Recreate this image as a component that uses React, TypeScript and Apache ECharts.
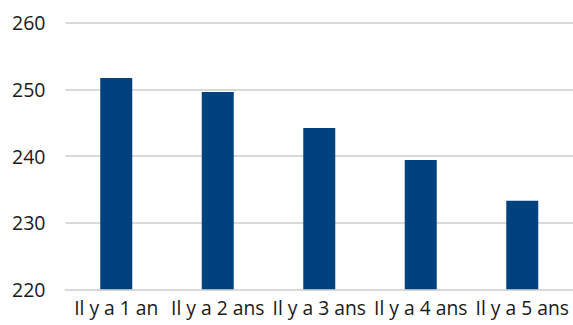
import React, { useEffect, useRef } from "react";
import * as echarts from "echarts";

const categories = ["Il y a 1 an", "Il y a 2 ans", "Il y a 3 ans", "Il y a 4 ans", "Il y a 5 ans"];
const values = [251.7, 249.6, 244.2, 239.4, 233.3];
const yMin = 220;
const yMax = 260;
const yInterval = 10;

export default function App() {
  const ref = useRef<HTMLDivElement>(null);
  useEffect(() => {
    if (!ref.current) return;
    const chart = echarts.init(ref.current, undefined, { renderer: "svg" });
    chart.setOption({
      animation: false,
      backgroundColor: "#ffffff",
      grid: { left: 65.5, right: -8.7, top: 22.7, bottom: 35.7, containLabel: false },
      xAxis: {
        type: "category",
        data: categories,
        axisLine: { show: true, lineStyle: { color: "#d9d9d9", width: 2 } },
        axisTick: { show: false },
        axisLabel: {
          color: "#1a1a1a",
          fontFamily: "Open Sans",
          fontSize: 19.3,
          margin: 9,
          interval: 0,
        },
      },
      yAxis: {
        type: "value",
        min: yMin,
        max: yMax,
        interval: yInterval,
        axisLine: { show: false },
        axisTick: { show: false },
        splitLine: { show: true, lineStyle: { color: "#d9d9d9", width: 2 } },
        axisLabel: {
          color: "#1a1a1a",
          fontFamily: "Open Sans",
          fontSize: 19.5,
          margin: 20,
        },
      },
      series: [
        {
          type: "bar",
          data: values,
          barWidth: 32,
          itemStyle: { color: "#004280" },
        },
      ],
    });
    return () => chart.dispose();
  }, []);
  return (
    <div
      ref={ref}
      style={{ position: "absolute", left: 0, top: 0, width: 573, height: 325 }}
    />
  );
}
